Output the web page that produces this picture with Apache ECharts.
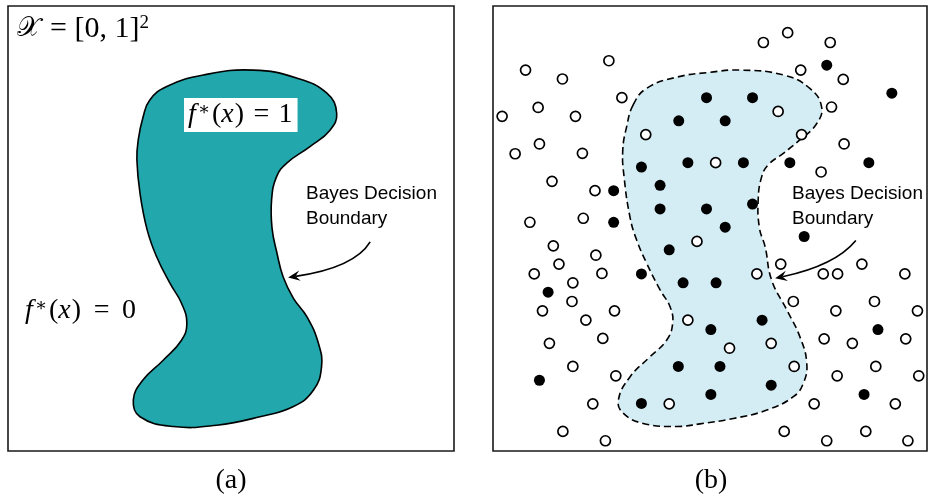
<!DOCTYPE html>
<html><head><meta charset="utf-8">
<script src="https://cdn.jsdelivr.net/npm/echarts@6/dist/echarts.min.js"></script>
<style>html,body{margin:0;padding:0;background:#fff}#c{width:930px;height:495px}</style>
</head><body><div id="c"></div><script>
// Unit square coordinates (0..100) for each panel
const blobA = [[31.8,78.9],[35.6,81.9],[43.8,84.5],[55.0,85.6],[64.7,83.8],[71.5,80.4],[73.7,75.9],[72.2,72.1],[67.7,68.4],[62.5,64.7],[60.2,61.6],[59.1,56.4],[59.2,50.1],[60.3,44.5],[61.7,39.1],[64.0,34.3],[67.0,30.2],[69.6,24.2],[70.3,18.9],[68.5,13.7],[64.0,10.0],[56.5,7.7],[46.8,5.8],[37.1,5.5],[29.6,7.7],[28.1,11.5],[30.3,16.0],[34.8,20.4],[38.9,24.9],[40.1,28.7],[38.9,33.2],[36.3,37.7],[33.3,43.7],[31.2,49.7],[29.6,57.9],[28.9,65.4],[29.2,69.9],[30.3,75.1]];
const boundaryB = [[32.3,77.8],[35.4,81.5],[42.3,84.0],[50.0,85.1],[56.9,85.6],[66.9,84.5],[73.0,81.5],[75.7,77.4],[74.6,73.6],[70.7,69.9],[66.9,66.9],[63.4,64.3],[61.9,61.6],[61.1,56.4],[61.4,50.1],[62.7,45.9],[64.2,38.4],[67.7,31.7],[70.7,25.7],[72.3,19.7],[71.5,15.2],[69.2,12.2],[63.1,9.2],[55.4,7.3],[47.7,6.1],[42.3,5.5],[34.6,6.2],[30.0,8.5],[28.9,11.5],[31.6,16.7],[36.2,21.2],[40.0,24.9],[41.4,28.7],[40.8,32.4],[38.5,36.2],[35.4,42.2],[33.1,47.4],[31.6,52.4],[30.2,61.6],[29.9,67.6],[30.8,72.9]];
const hollowB = [[7.5,85.6],[16.0,83.6],[26.7,87.7],[29.7,79.4],[10.4,77.2],[2.1,75.2],[19.0,75.2],[35.2,71.1],[10.7,69.0],[5.1,66.8],[20.6,66.9],[13.6,60.6],[23.5,58.5],[8.5,51.4],[20.8,52.3],[67.9,94.0],[62.3,91.8],[77.7,91.8],[70.9,85.6],[80.7,83.5],[78.0,77.3],[65.7,76.3],[71.1,71.1],[80.9,69.0],[51.3,64.8],[75.6,62.7],[13.9,46.1],[23.7,44.0],[15.2,42.0],[9.5,39.8],[25.1,39.9],[18.4,37.8],[18.2,33.6],[11.4,31.5],[28.0,31.5],[21.4,29.4],[13.0,24.2],[25.3,25.3],[18.4,19.0],[28.3,16.9],[23.0,10.6],[16.1,4.4],[25.9,2.3],[47.0,47.1],[44.9,29.4],[40.6,10.6],[60.8,39.8],[66.3,42.0],[76.1,39.8],[79.4,39.8],[85.0,42.0],[94.9,39.8],[69.2,33.6],[79.0,31.5],[87.9,33.6],[97.8,31.5],[76.3,25.2],[82.8,24.2],[95.1,25.2],[54.5,23.1],[64.1,24.2],[69.4,19.0],[79.3,16.9],[88.2,19.0],[98.1,16.9],[74.0,10.6],[92.7,10.6],[67.1,4.4],[85.9,4.4],[76.9,2.3],[95.6,2.3]];
const filledB = [[49.2,79.4],[59.8,79.4],[42.8,74.2],[53.5,74.2],[34.2,63.8],[44.9,64.8],[57.7,64.8],[68.4,64.8],[86.6,64.8],[76.9,86.7],[91.9,80.4],[38.5,59.7],[27.8,58.5],[38.5,54.4],[49.2,54.4],[59.8,55.5],[27.8,51.4],[53.5,50.3],[40.6,45.2],[34.2,39.8],[43.8,37.8],[51.4,37.8],[12.7,35.7],[71.7,48.2],[62.0,29.4],[50.2,27.3],[42.7,19.0],[52.3,19.0],[64.1,14.8],[50.2,12.7],[34.2,10.7],[10.7,15.9],[88.7,27.3],[85.5,12.7]];
const arrowA = [[81.2,47.0],[77.7,41.2],[62.8,39.0]]; // start, control, end
const arrowB = [[83.6,47.3],[78.9,41.7],[65.0,38.8]];
const annotationText = 'Bayes Decision\nBoundary';
const captions = ['(a)','(b)'];

const chart = echarts.init(document.getElementById('c'), null, {renderer:'canvas'});
const mathFont = '"Liberation Serif", "DejaVu Serif", serif';
const sansFont = '"Liberation Sans", Arial, sans-serif';

function shape(idx, pts, style, z){
  return {type:'custom', xAxisIndex:idx, yAxisIndex:idx, data:[[0,0]], clip:false, silent:true, z,
    renderItem:(params, api)=>({type:'polygon', shape:{points: pts.map(p=>api.coord(p)), smooth:0.45}, style})};
}
function arrow(idx, a){
  return {type:'custom', xAxisIndex:idx, yAxisIndex:idx, data:[[0,0]], clip:false, silent:true, z:6,
    renderItem:(params, api)=>{
      const [s,c,e] = a.map(p=>api.coord(p));
      const dx=e[0]-c[0], dy=e[1]-c[1], L=Math.hypot(dx,dy), ux=dx/L, uy=dy/L, px=-uy, py=ux;
      const len=12, w=5.2, notch=7.5;
      const base=[e[0]-ux*notch, e[1]-uy*notch];
      return {type:'group', children:[
        {type:'bezierCurve', shape:{x1:s[0],y1:s[1],x2:base[0],y2:base[1],cpx1:c[0],cpy1:c[1]}, style:{stroke:'#000', fill:null, lineWidth:1.7}},
        {type:'polygon', shape:{points:[e,[e[0]-ux*len+px*w, e[1]-uy*len+py*w], base, [e[0]-ux*len-px*w, e[1]-uy*len-py*w]]}, style:{fill:'#000'}}
      ]};
    }};
}
const axisCommon = {type:'value', min:0, max:100, show:false};
const mathRich = {
  i:{fontFamily:mathFont, fontStyle:'italic', fontSize:28, color:'#000', padding:[0,1,0,0]},
  n:{fontFamily:mathFont, fontSize:28, color:'#000'},
  s:{fontFamily:mathFont, fontSize:18, color:'#000', verticalAlign:'top', padding:[0,2,0,1]}
};
chart.setOption({
  animation:false,
  grid:[
    {left:8, top:6, width:446, height:445, show:true, borderColor:'#1a1a1a', borderWidth:1.6, backgroundColor:'#fff'},
    {left:493, top:6, width:434, height:445, show:true, borderColor:'#1a1a1a', borderWidth:1.6, backgroundColor:'#fff'}
  ],
  xAxis:[Object.assign({gridIndex:0}, axisCommon), Object.assign({gridIndex:1}, axisCommon)],
  yAxis:[Object.assign({gridIndex:0}, axisCommon), Object.assign({gridIndex:1}, axisCommon)],
  series:[
    shape(0, blobA, {fill:'#22a7ac', stroke:'#000', lineWidth:1.6}, 2),
    shape(1, boundaryB, {fill:'#d4edf4', stroke:'#000', lineWidth:1.6, lineDash:[7,4]}, 2),
    {type:'scatter', xAxisIndex:1, yAxisIndex:1, data:hollowB, symbol:'circle', symbolSize:10, z:5, silent:true,
      itemStyle:{color:'#fff', borderColor:'#000', borderWidth:1.7, opacity:1}},
    {type:'scatter', xAxisIndex:1, yAxisIndex:1, data:filledB, symbol:'circle', symbolSize:11, z:5, silent:true,
      itemStyle:{color:'#000', opacity:1}},
    arrow(0, arrowA), arrow(1, arrowB)
  ],
  graphic:[
    {type:'text', left:17, top:14, z:100, style:{text:'{i|𝒳}{n|= [0, 1]}{s|2}', rich:{
      i:{fontFamily:'"DejaVu Serif", serif', fontSize:27, color:'#000', padding:[0,10,0,0]},
      n:{fontFamily:mathFont, fontSize:30, color:'#000'},
      s:{fontFamily:mathFont, fontSize:19, color:'#000', verticalAlign:'top'}}}},
    {type:'text', left:184, top:98, z:100, style:{text:'{i|f}{s|∗}{n|(}{i|x}{n|) \u200A= \u200A1}', rich:mathRich,
      backgroundColor:'#fff', padding:[3,5,3,4]}},
    {type:'text', left:25, top:297, z:100, style:{text:'{i|f}{s|∗}{n|(}{i|x}{n|) \u2009= \u20090}', rich:mathRich}},
    {type:'text', left:306, top:181, z:100, style:{text:annotationText, fontFamily:sansFont, fontSize:19, lineHeight:25, fill:'#000'}},
    {type:'text', left:792, top:181, z:100, style:{text:annotationText, fontFamily:sansFont, fontSize:19, lineHeight:25, fill:'#000'}},
    {type:'text', x:231, y:481, z:100, style:{text:captions[0], fontFamily:mathFont, fontSize:28, fill:'#000', align:'center', verticalAlign:'middle'}},
    {type:'text', x:711, y:481, z:100, style:{text:captions[1], fontFamily:mathFont, fontSize:28, fill:'#000', align:'center', verticalAlign:'middle'}}
  ]
});
</script></body></html>
